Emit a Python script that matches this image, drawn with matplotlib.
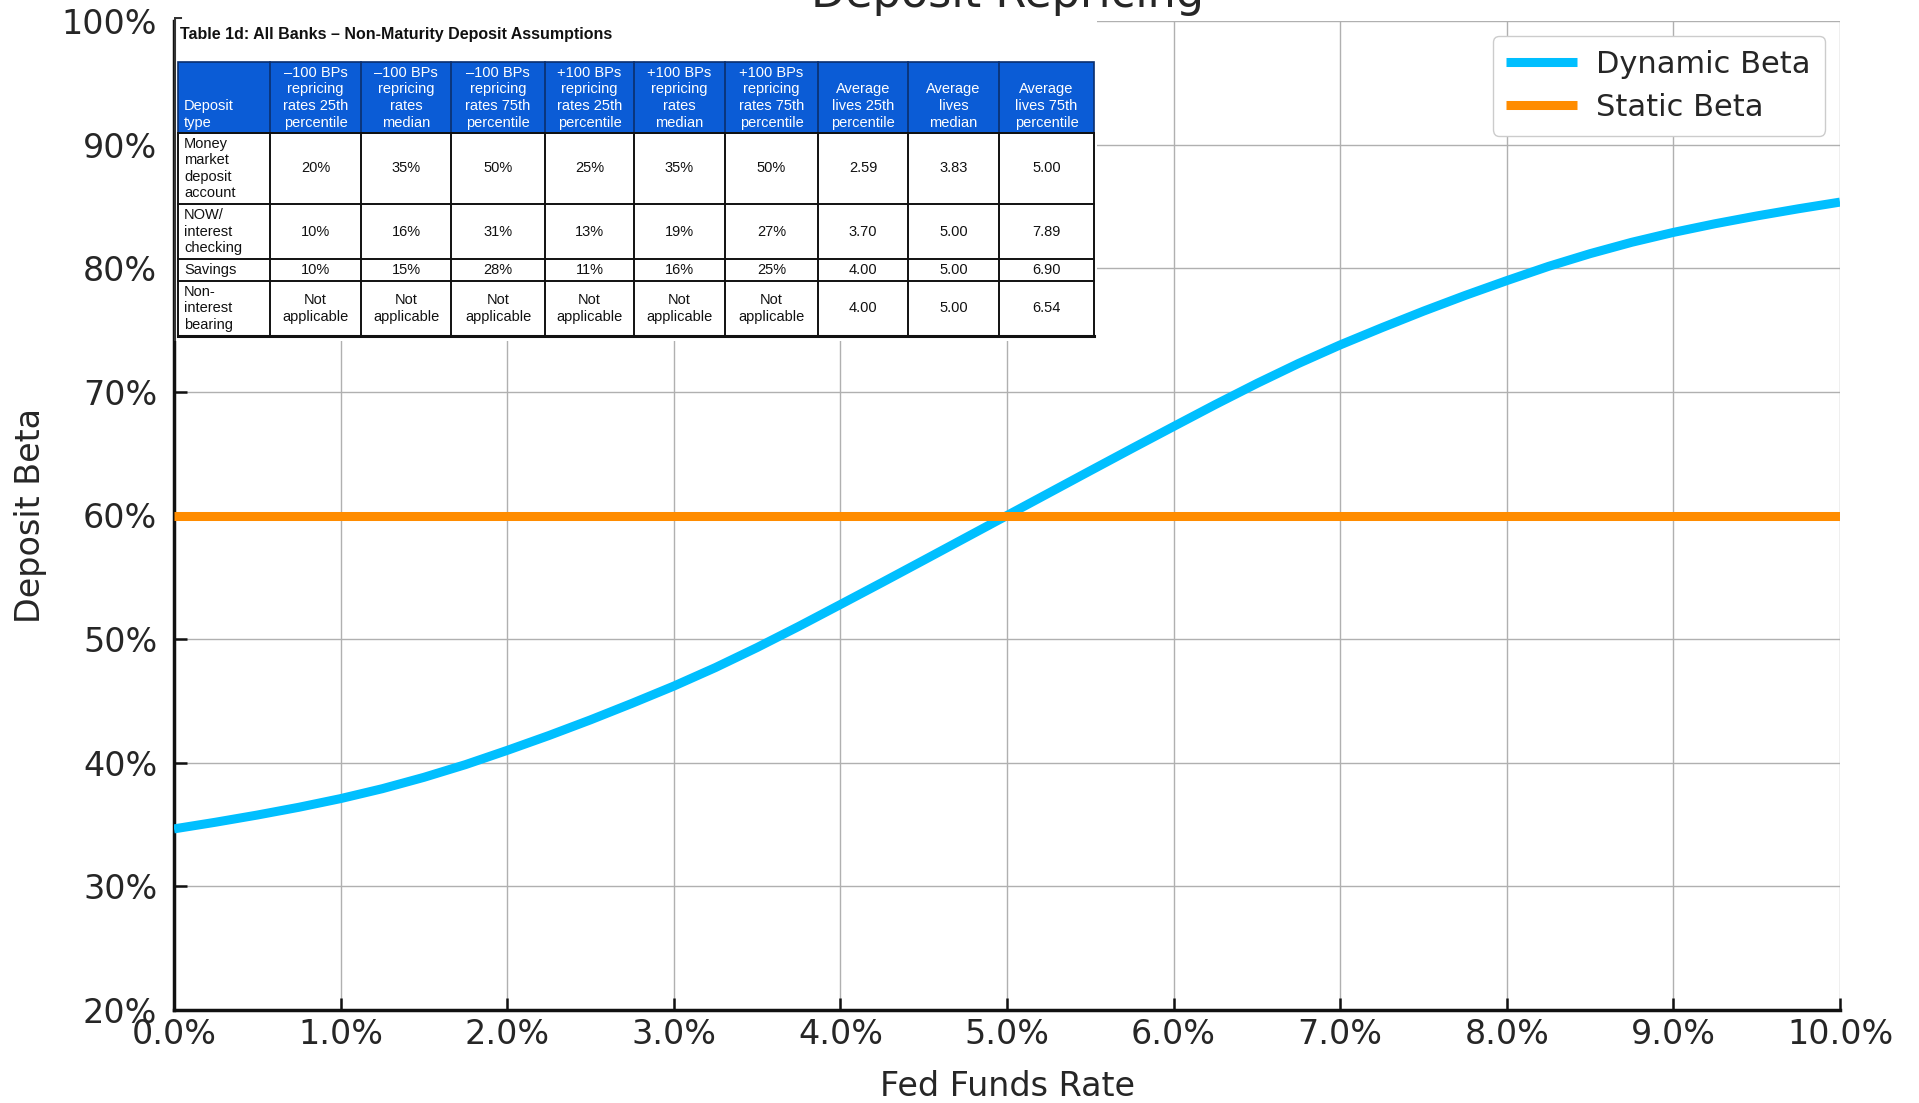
import matplotlib
matplotlib.use("Agg")
import matplotlib.pyplot as plt
from matplotlib.ticker import PercentFormatter, MultipleLocator
from matplotlib.patches import Rectangle

# ---------------------------------------------------------------------------
# Data
# ---------------------------------------------------------------------------
fed_funds = [0.0, 0.25, 0.5, 0.75, 1.0, 1.25, 1.5, 1.75, 2.0, 2.25, 2.5,
             2.75, 3.0, 3.25, 3.5, 3.75, 4.0, 4.25, 4.5, 4.75, 5.0,
             5.25, 5.5, 5.75, 6.0, 6.25, 6.5, 6.75, 7.0, 7.25, 7.5,
             7.75, 8.0, 8.25, 8.5, 8.75, 9.0, 9.25, 9.5, 9.75, 10.0]
dynamic_beta = [34.65, 35.19, 35.77, 36.40, 37.10, 37.90, 38.82, 39.85, 41.00, 42.20, 43.47,
                44.81, 46.20, 47.70, 49.32, 51.03, 52.80, 54.58, 56.38, 58.19, 60.00,
                61.81, 63.62, 65.42, 67.20, 68.97, 70.68, 72.30, 73.80, 75.19, 76.53,
                77.80, 79.00, 80.15, 81.18, 82.10, 82.90, 83.60, 84.23, 84.81, 85.35]
static_beta = [60.0] * len(fed_funds)

table_title = "Table 1d: All Banks \u2013 Non-Maturity Deposit Assumptions"
table_header = [
    "Deposit\ntype",
    "\u2013100 BPs\nrepricing\nrates 25th\npercentile",
    "\u2013100 BPs\nrepricing\nrates\nmedian",
    "\u2013100 BPs\nrepricing\nrates 75th\npercentile",
    "+100 BPs\nrepricing\nrates 25th\npercentile",
    "+100 BPs\nrepricing\nrates\nmedian",
    "+100 BPs\nrepricing\nrates 75th\npercentile",
    "Average\nlives 25th\npercentile",
    "Average\nlives\nmedian",
    "Average\nlives 75th\npercentile",
]
deposit_types = ["Money\nmarket\ndeposit\naccount", "NOW/\ninterest\nchecking",
                 "Savings", "Non-\ninterest\nbearing"]
na = "Not\napplicable"
table_rows = [
    ["20%", "35%", "50%", "25%", "35%", "50%", "2.59", "3.83", "5.00"],
    ["10%", "16%", "31%", "13%", "19%", "27%", "3.70", "5.00", "7.89"],
    ["10%", "15%", "28%", "11%", "16%", "25%", "4.00", "5.00", "6.90"],
    [na, na, na, na, na, na, "4.00", "5.00", "6.54"],
]

# ---------------------------------------------------------------------------
# Layout (pixels of the 1919x1103 canvas)
# ---------------------------------------------------------------------------
W, H = 1919, 1103
BLUE = "#00BFFF"
ORANGE = "#FF8C00"
TXT = "#262626"

fig = plt.figure(figsize=(W / 100, H / 100), dpi=100)
fig.patch.set_facecolor("white")

L, R, T, B = 174, 1840, 21, 1010
ax = fig.add_axes([L / W, 1 - B / H, (R - L) / W, (B - T) / H])

ax.plot(fed_funds, dynamic_beta, color=BLUE, lw=6.5, label="Dynamic Beta",
        solid_capstyle="butt", solid_joinstyle="round", zorder=3)
ax.plot(fed_funds, static_beta, color=ORANGE, lw=6.5, label="Static Beta",
        solid_capstyle="butt", zorder=3)

ax.set_xlim(0, 10)
ax.set_ylim(20, 100)
ax.xaxis.set_major_locator(MultipleLocator(1))
ax.yaxis.set_major_locator(MultipleLocator(10))
ax.xaxis.set_major_formatter(PercentFormatter(decimals=1))
ax.yaxis.set_major_formatter(PercentFormatter(decimals=0))
ax.grid(True, color="#b0b0b0", linewidth=1.0)

for s in ("top", "right"):
    ax.spines[s].set_visible(False)
for s in ("left", "bottom"):
    ax.spines[s].set_linewidth(2.5)
    ax.spines[s].set_color("#111111")

ax.tick_params(direction="in", length=9, width=1.8, labelsize=24,
               labelcolor=TXT, color="#111111")
ax.tick_params(axis="y", pad=12)
ax.tick_params(axis="x", pad=6)

ax.set_xlabel("Fed Funds Rate", fontsize=24, color=TXT)
ax.set_ylabel("Deposit Beta", fontsize=24, color=TXT)
ax.xaxis.set_label_coords(0.5, -0.061)
ax.yaxis.set_label_coords(-0.076, 0.5)

leg = ax.legend(loc="upper right", fontsize=22, handlelength=2.3,
                handletextpad=0.65, borderpad=0.45, labelspacing=0.45,
                framealpha=1.0, edgecolor="#cccccc", fancybox=True)
for t in leg.get_texts():
    t.set_color(TXT)

fig.text(1007 / W, 1 - 7 / H, "Deposit Repricing", ha="center", va="baseline",
         fontsize=32, color=TXT)

# ---------------------------------------------------------------------------
# Table inset (pasted image of the source table)
# ---------------------------------------------------------------------------
TL, TR, TT, TB = 174, 1097, 17, 341
tab = fig.add_axes([TL / W, 1 - TB / H, (TR - TL) / W, (TB - TT) / H])
tab.set_xlim(TL, TR)
tab.set_ylim(TB, TT)
tab.set_xticks([])
tab.set_yticks([])
for s in tab.spines.values():
    s.set_visible(False)
tab.set_facecolor("white")

FONT = ["Liberation Sans Narrow", "Liberation Sans", "DejaVu Sans"]
FS = 10.5
col_edges = [178, 270, 361, 451, 545, 634, 725, 818, 908, 999, 1094]
row_edges = [62, 133, 204, 259, 281, 336]
HEAD_BLUE = "#0b5cd6"

tab.plot([175, 175], [18, TB], color="#333333", lw=1.5)
tab.plot([175, 181], [18, 18], color="#333333", lw=1.5)

tab.text(180, 35, table_title, ha="left", va="center", fontsize=11.5,
         fontweight="bold", family=FONT, color="#111111")

tab.add_patch(Rectangle((col_edges[0], row_edges[0]),
                        col_edges[-1] - col_edges[0], row_edges[1] - row_edges[0],
                        facecolor=HEAD_BLUE, edgecolor="#0a2f6e", lw=1.2))
for i, lab in enumerate(table_header):
    x0, x1 = col_edges[i], col_edges[i + 1]
    if i > 0:
        tab.plot([x0, x0], [row_edges[0], row_edges[1]], color="#0a2f6e", lw=1.2)
    if i == 0:
        tab.text(x0 + 6, row_edges[1] - 3, lab, ha="left", va="bottom",
                 fontsize=FS, family=FONT, color="white", linespacing=1.25)
    else:
        tab.text((x0 + x1) / 2, row_edges[1] - 3, lab, ha="center", va="bottom",
                 fontsize=FS, family=FONT, color="white", linespacing=1.25)

for r, (dtype, vals) in enumerate(zip(deposit_types, table_rows)):
    y0, y1 = row_edges[r + 1], row_edges[r + 2]
    yc = (y0 + y1) / 2
    tab.text(col_edges[0] + 6, yc, dtype, ha="left", va="center", fontsize=FS,
             family=FONT, color="#111111", linespacing=1.2)
    for c, v in enumerate(vals):
        xc = (col_edges[c + 1] + col_edges[c + 2]) / 2
        tab.text(xc, yc, v, ha="center", va="center", fontsize=FS,
                 family=FONT, color="#111111", linespacing=1.2)

# cell borders
for y in row_edges[1:]:
    tab.plot([col_edges[0], col_edges[-1]], [y, y], color="#111111", lw=1.4)
for x in col_edges:
    tab.plot([x, x], [row_edges[1], row_edges[-1]], color="#111111", lw=1.4)
tab.plot([col_edges[0], col_edges[-1]], [row_edges[-1], row_edges[-1]],
         color="#111111", lw=2.2)

fig.savefig("out.png", dpi=100, facecolor="white")
